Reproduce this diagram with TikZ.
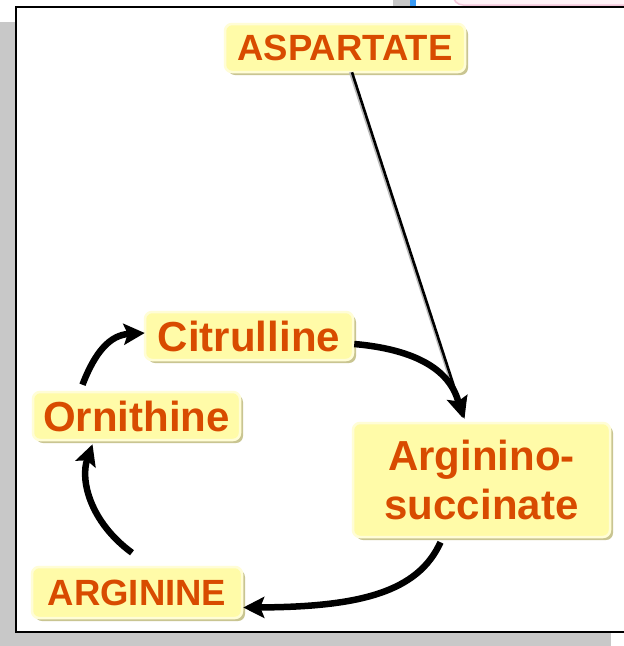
\documentclass[tikz,border=0pt]{standalone}
\usepackage{fontspec}
\setmainfont{Liberation Sans}
\usetikzlibrary{arrows.meta,shadows}
\definecolor{boxfill}{HTML}{FFFBA8}
\definecolor{boxglow}{HTML}{FFFDD6}
\definecolor{boxshade}{HTML}{C9C591}
\definecolor{txtcol}{HTML}{D84B00}
\definecolor{pagegray}{HTML}{C8C8C8}
\definecolor{tabblue}{HTML}{3A9BF5}
\definecolor{tabpink}{HTML}{FFF2F7}
\definecolor{tabpinkline}{HTML}{F3C6DA}
\tikzset{
  metab/.style={rounded corners=7pt, fill=boxfill, draw=boxglow, line width=2.5pt,
    drop shadow={shadow xshift=3pt, shadow yshift=-3pt, fill=boxshade, opacity=1},
    text=txtcol, font=\bfseries, inner sep=0pt, align=center},
  capsname/.style={metab, font=\fontsize{36.5}{44}\bfseries\selectfont},
  lowname/.style={metab, font=\fontsize{42}{49}\bfseries\selectfont},
  flow/.style={line width=6.5pt, -{Stealth[length=21pt,width=21pt,inset=4pt]}},
  feed/.style={line width=2.6pt, -{Stealth[length=21pt,width=19pt,inset=4pt]}},
}
\begin{document}
\begin{tikzpicture}[x=1pt,y=-1pt]
\useasboundingbox (0,0) rectangle (624,646);
\clip (0,0) rectangle (624,646);
% window furniture around the slide
\fill[tabpink, draw=tabpinkline, line width=1.5pt, rounded corners=10pt] (453,-30) rectangle (660,5);
\fill[pagegray] (393,-5) rectangle (410,8);
\fill[tabblue] (410,-5) rectangle (416,8);
% slide shadow and slide
\fill[pagegray] (0,22) rectangle (611,646);
\draw[fill=white, line width=2pt] (16,7) rectangle (650,632);

% metabolites
\node[capsname, minimum width=240pt, minimum height=48pt] (asp) at (345,48) {ASPARTATE};
\node[lowname, minimum width=208pt, minimum height=48pt] (cit) at (249,336) {Citrulline};
\node[lowname, minimum width=207pt, minimum height=48pt] (orn) at (136.5,416) {Ornithine};
\node[lowname, minimum width=257pt, minimum height=114pt] (arg) at (481.5,480) {\raisebox{-3pt}{Arginino-}\\\raisebox{-3pt}{succinate}};
\node[capsname, minimum width=210pt, minimum height=51pt] (argn) at (137,592.5) {ARGININE};

% aspartate feeds in (with its faint shadow stroke)
\draw[line width=2.2pt, gray!55, shorten >=16pt] ([xshift=5pt,yshift=1pt]asp.south) -- ([xshift=-19pt,yshift=4pt]arg.north);
\draw[feed] ([xshift=7pt,yshift=1pt]asp.south) -- ([xshift=-17pt,yshift=3pt]arg.north);

% the cycle
\draw[flow] ([yshift=-8pt]cit.east) .. controls (400,348) and (448,362) .. ([xshift=-19pt,yshift=4pt]arg.north);
\draw[flow] ([xshift=-41pt,yshift=-4pt]arg.south) .. controls (418,592) and (360,607) .. ([yshift=-15pt]argn.east);
\draw[flow] ([xshift=-5pt,yshift=13pt]argn.north) .. controls (90,522) and (80,480) .. ([xshift=-44pt,yshift=-3pt]orn.south);
\draw[flow] ([xshift=-54pt,yshift=6pt]orn.north) .. controls (95,352) and (110,335) .. ([xshift=1pt,yshift=3pt]cit.west);
\end{tikzpicture}
\end{document}
